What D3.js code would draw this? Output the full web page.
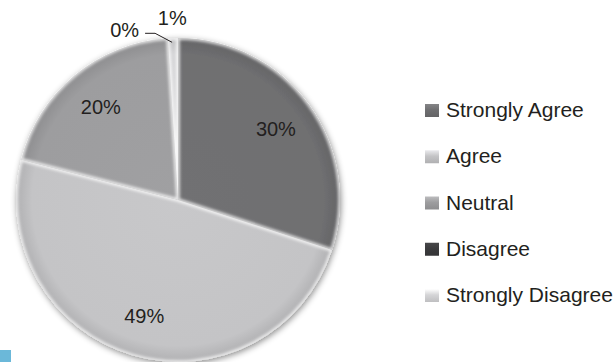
<!DOCTYPE html>
<html>
<head>
<meta charset="utf-8">
<script src="https://cdn.jsdelivr.net/npm/d3@7/dist/d3.min.js"></script>
<style>
  html, body { margin: 0; padding: 0; background: #fff; }
  svg { display: block; font-family: "Liberation Sans", Arial, sans-serif; }
</style>
</head>
<body>
<svg id="chart" width="614" height="362"></svg>
<script>
// Survey responses, share of respondents (%)
const categories = ["Strongly Agree", "Agree", "Neutral", "Disagree", "Strongly Disagree"];
const values = [30, 49, 20, 0, 1];
const sliceColors = ["#6f6f71", "#c4c4c6", "#9d9d9f", "#3b3b3d", "#d5d5d7"];

const W = 614, H = 362;
const cx = 178, cy = 200, R = 162;

const svg = d3.select("#chart");
const defs = svg.append("defs");

// soft shadow around the pie
const shadow = defs.append("filter").attr("id", "pieShadow")
  .attr("x", "-20%").attr("y", "-20%").attr("width", "140%").attr("height", "140%");
shadow.append("feDropShadow")
  .attr("dx", 1).attr("dy", 2).attr("stdDeviation", 3)
  .attr("flood-color", "#000").attr("flood-opacity", 0.45);

const soften = defs.append("filter").attr("id", "soften")
  .attr("x", "-10%").attr("y", "-10%").attr("width", "120%").attr("height", "120%");
soften.append("feGaussianBlur").attr("stdDeviation", 1.4);

const pie = d3.pie().value(d => d).sort(null);
const arcs = pie(values);
const arc = d3.arc().innerRadius(0).outerRadius(R);

// radial shading per slice: slightly darker toward the rim
sliceColors.forEach((c, i) => {
  const g = defs.append("radialGradient").attr("id", "grad" + i)
    .attr("gradientUnits", "userSpaceOnUse")
    .attr("cx", 0).attr("cy", 0).attr("r", R);
  g.append("stop").attr("offset", "0%").attr("stop-color", d3.color(c).brighter(0.06));
  g.append("stop").attr("offset", "90%").attr("stop-color", c);
  g.append("stop").attr("offset", "100%").attr("stop-color", d3.color(c).darker(0.3));
  defs.append("clipPath").attr("id", "clip" + i)
    .append("path").attr("d", arc(arcs[i]));
});

const pieG = svg.append("g").attr("filter", "url(#pieShadow)");
const sliceG = pieG.append("g").attr("transform", `translate(${cx},${cy})`);

arcs.forEach((a, i) => {
  const d = arc(a);
  const g = sliceG.append("g").attr("clip-path", `url(#clip${i})`);
  g.append("path")
    .attr("d", d)
    .attr("fill", `url(#grad${i})`);
  // bevel highlight along the slice edges
  g.append("path")
    .attr("d", d)
    .attr("fill", "none")
    .attr("stroke", "#fff")
    .attr("stroke-opacity", 0.8)
    .attr("stroke-width", 3.5)
    .attr("filter", "url(#soften)");
});

// percentage labels inside the larger slices
const labelArc = d3.arc().innerRadius(121).outerRadius(121);
const fmt = v => Math.round(v) + "%";
arcs.forEach((a, i) => {
  if (values[i] < 5) return;
  const [x, y] = labelArc.centroid(a);
  svg.append("text")
    .attr("x", cx + x).attr("y", cy + y)
    .attr("text-anchor", "middle")
    .attr("dominant-baseline", "central")
    .attr("font-size", 20)
    .attr("fill", "#231f20")
    .text(fmt(values[i]));
});

// outside label for the thin "Strongly Disagree" slice
{
  const a = arcs[4];
  const [x, y] = d3.arc().innerRadius(182).outerRadius(182).centroid(a);
  svg.append("text")
    .attr("x", cx + x).attr("y", cy + y)
    .attr("text-anchor", "middle")
    .attr("dominant-baseline", "central")
    .attr("font-size", 20)
    .attr("fill", "#231f20")
    .text(fmt(values[4]));
}

// leader-line label for the empty "Disagree" slice
{
  const a = arcs[3];
  const ang = a.startAngle;
  const r0 = R - 4;
  const sx = cx + r0 * Math.sin(ang) + 4, sy = cy - r0 * Math.cos(ang);
  const ex = sx - 17, ey = sy - 9;
  const hx = ex - 10;
  svg.append("polyline")
    .attr("points", [[sx, sy], [ex, ey], [hx, ey]].map(p => p.join(",")).join(" "))
    .attr("fill", "none").attr("stroke", "#231f20").attr("stroke-width", 1);
  svg.append("text")
    .attr("x", hx - 6).attr("y", ey + 4)
    .attr("text-anchor", "end")
    .attr("font-size", 20)
    .attr("fill", "#231f20")
    .text(fmt(values[3]));
}

// legend
const legendY = d3.scalePoint().domain(categories).range([117, 302]);
const legend = svg.append("g");
categories.forEach((c, i) => {
  const lg = defs.append("linearGradient").attr("id", "lg" + i)
    .attr("x1", 0).attr("y1", 0).attr("x2", 0).attr("y2", 1);
  lg.append("stop").attr("offset", "0%").attr("stop-color", d3.color(sliceColors[i]).brighter(0.5));
  lg.append("stop").attr("offset", "45%").attr("stop-color", sliceColors[i]);
  lg.append("stop").attr("offset", "100%").attr("stop-color", d3.color(sliceColors[i]).darker(0.3));
  const by = legendY(c);
  legend.append("rect")
    .attr("x", 425).attr("y", by - 13)
    .attr("width", 14).attr("height", 13)
    .attr("fill", `url(#lg${i})`);
  legend.append("text")
    .attr("x", 446).attr("y", by)
    .attr("font-size", 21)
    .attr("fill", "#231f20")
    .text(c);
});

// small blue marker in the lower-left corner
svg.append("rect")
  .attr("x", 0).attr("y", H - 12).attr("width", 11).attr("height", 12)
  .attr("fill", "#6bb8d9");
</script>
</body>
</html>
